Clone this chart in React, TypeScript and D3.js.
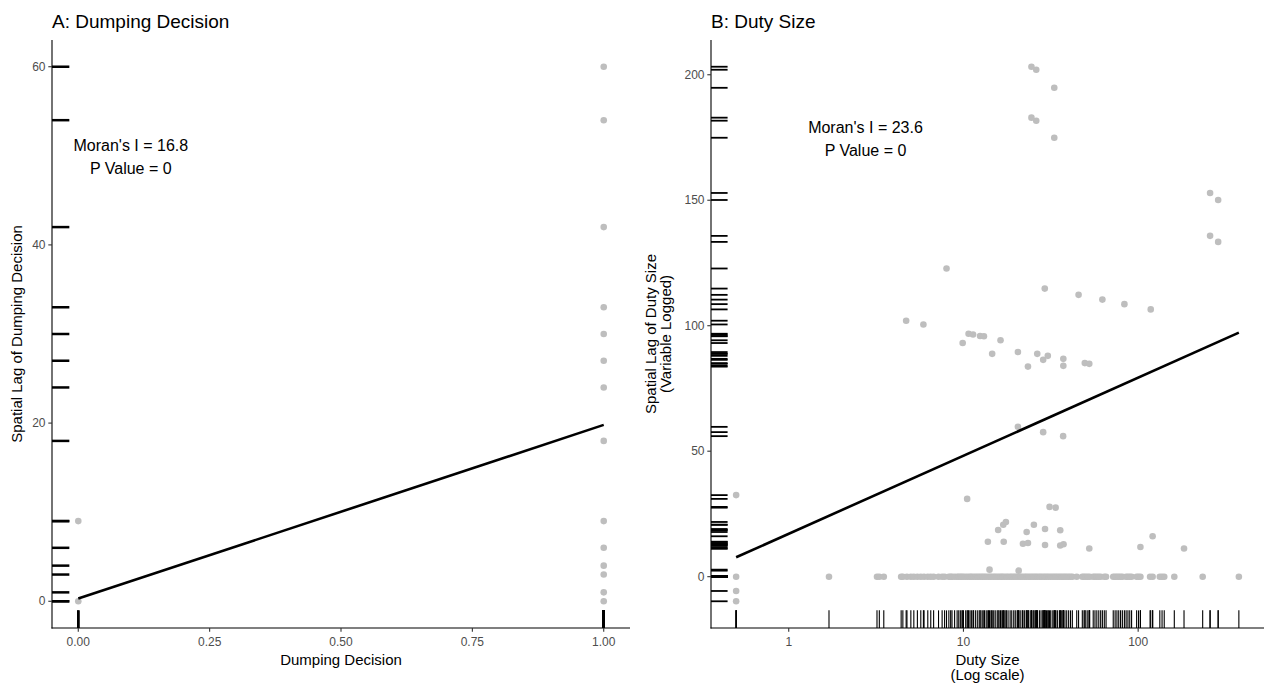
import React from "react";
import * as d3 from "d3";

// ---------- Panel A data ----------
const dumpingDecision = [0, 0, 1, 1, 1, 1, 1, 1, 1, 1, 1, 1, 1, 1, 1, 1];
const dumpingLag = [0, 9, 60, 54, 42, 33, 30, 27, 24, 18, 9, 6, 4, 3, 1, 0];
const xTicksA = [0, 0.25, 0.5, 0.75, 1];
const yTicksA = [0, 20, 40, 60];
const fitA = { intercept: 0.3, slope: 19.5 };
const moranA = ["Moran's I = 16.8", "P Value = 0"];
const annoA = { x: 0.1, y: 50 };

// ---------- Panel B data ----------
// observations with non-zero spatial lag
const dutySizeOther = [
  24.5, 26.1, 33.1, 24.5, 26.1, 33.1,
  258, 287, 258, 287,
  8.0,
  29.2, 45.6, 62.4, 83.4, 118,
  4.7, 5.9,
  9.9, 10.7, 11.35, 12.45, 13.1, 16.3, 14.6, 20.5, 23.4, 26.45, 28.6, 30.4, 37.3, 37.3, 49.5, 52.5,
  20.5, 28.6, 37.2,
  0.5, 10.5, 13.8, 15.8, 16.9, 17.5, 17.0, 21.9, 23.4, 23.0, 25.3, 29.3, 29.3, 31.1, 33.7, 35.8, 35.8, 37.4,
  52.5, 103, 121, 183, 14.1, 20.7,
  0.5, 0.5,
];
const dutyLagOther = [
  203.2, 202, 194.8, 182.9, 181.7, 174.9,
  152.9, 150.1, 135.8, 133.4,
  122.8,
  114.8, 112.3, 110.4, 108.6, 106.5,
  102, 100.5,
  93.1, 96.8, 96.5, 95.9, 95.8, 94.2, 88.8, 89.5, 83.7, 88.8, 86.4, 88.0, 86.8, 84.0, 85.1, 84.8,
  59.7, 57.6, 56.0,
  32.5, 31.0, 13.9, 18.6, 20.7, 21.8, 13.9, 13.1, 13.4, 17.8, 20.7, 19.0, 12.6, 27.8, 27.5, 18.5, 12.4, 12.9,
  11.2, 11.8, 16.1, 11.2, 2.8, 2.4,
  -5.7, -9.8,
];
// observations with a spatial lag of zero
const dutySizeZero = [
  0.5, 1.7, 3.2, 3.3, 3.5,
  4.4, 4.5, 4.75, 5.0, 5.2, 5.45, 5.7, 5.95, 6.25, 6.5, 6.75, 7.2, 7.55, 7.8, 8.25, 8.45, 8.6, 8.9,
  9.2, 9.4, 9.6, 9.8, 10.0, 10.3, 10.6, 10.9, 11.1, 11.4, 11.7, 12.0, 12.3, 12.6, 12.9, 13.2, 13.5,
  13.9, 14.2, 14.5, 14.9, 15.2, 15.6, 16.0, 16.4, 16.7, 17.1, 17.6, 18.0, 18.5, 18.9, 19.4, 19.8,
  20.3, 20.8, 21.3, 21.8, 22.4, 22.9, 23.5, 24.1, 24.7, 25.3, 25.9, 26.5, 27.2, 27.8, 28.5, 29.2,
  29.9, 30.6, 31.4, 32.2, 33.0, 33.8, 34.6, 35.5, 36.3, 37.2, 38.1, 39.0, 40.0, 41.0, 42.0,
  44.5, 47.9, 49.0, 50.2, 51.5, 52.8, 55.3, 56.6, 58.0, 59.5, 61.0, 64.0, 65.5,
  72.0, 73.8, 75.6, 77.4, 79.3, 81.2, 85.3, 87.4, 89.5, 91.7,
  98.0, 100.5, 103.0,
  117.0, 121.0, 133.0, 137.0, 141.0, 161.0, 234.0, 377.0,
];
const xTicksB = [1, 10, 100];
const yTicksB = [0, 50, 100, 150, 200];
const fitB = { intercept: 17.1, slope: 31.1 }; // on log10(duty size)
const moranB = ["Moran's I = 23.6", "P Value = 0"];
const annoB = { x: 2.75, y: 175 };

const FONT = '"Liberation Sans", Arial, Helvetica, sans-serif';
const PT_COLOR = "#bebebe";
const TICK_TEXT = "#4d4d4d";

function expand([lo, hi]: [number, number], m = 0.05): [number, number] {
  const r = hi - lo;
  return [lo - m * r, hi + m * r];
}

export default function App() {
  const W = 1266, H = 683;

  // ----- Panel A geometry -----
  const A = { left: 52, right: 630, top: 40, bottom: 628 };
  const xA = d3.scaleLinear().domain(expand(d3.extent(dumpingDecision) as [number, number])).range([A.left, A.right]);
  const yA = d3.scaleLinear().domain(expand(d3.extent(dumpingLag) as [number, number])).range([A.bottom, A.top]);
  const rugLenAx = 0.03 * (A.right - A.left);
  const rugLenAy = 0.03 * (A.bottom - A.top);
  const xExtA = d3.extent(dumpingDecision) as [number, number];
  const lineA = d3.line<number>().x((d) => xA(d)).y((d) => yA(fitA.intercept + fitA.slope * d));

  // ----- Panel B geometry -----
  const B = { left: 711, right: 1264, top: 40, bottom: 628 };
  const allX = [...dutySizeOther, ...dutySizeZero];
  const allY = [...dutyLagOther, ...dutySizeZero.map(() => 0)];
  const logExt = expand(d3.extent(allX.map((v) => Math.log10(v))) as [number, number]);
  const xB = d3.scaleLog().domain([10 ** logExt[0], 10 ** logExt[1]]).range([B.left, B.right]);
  const yB = d3.scaleLinear().domain(expand(d3.extent(allY) as [number, number])).range([B.bottom, B.top]);
  const rugLenBx = 0.03 * (B.right - B.left);
  const rugLenBy = 0.03 * (B.bottom - B.top);
  const xExtB = d3.extent(allX) as [number, number];
  const lineB = d3.line<number>().x((d) => xB(d)).y((d) => yB(fitB.intercept + fitB.slope * Math.log10(d)));

  const fmtA = d3.format(".2f");

  return (
    <svg width={W} height={H} style={{ position: "absolute", left: 0, top: 0, background: "#fff" }} fontFamily={FONT}>
      <rect x={0} y={0} width={W} height={H} fill="#fff" />

      {/* ================= Panel A ================= */}
      <text x={52} y={28} fontSize={19} fill="#000">A: Dumping Decision</text>

      {/* rugs */}
      <g stroke="#000" strokeWidth={2.5}>
        {dumpingLag.map((v, i) => (
          <line key={"ary" + i} x1={A.left} x2={A.left + rugLenAx} y1={yA(v)} y2={yA(v)} />
        ))}
        {dumpingDecision.map((v, i) => (
          <line key={"arx" + i} x1={xA(v)} x2={xA(v)} y1={A.bottom} y2={A.bottom - rugLenAy} />
        ))}
      </g>

      {/* points */}
      <g fill={PT_COLOR}>
        {dumpingDecision.map((v, i) => (
          <circle key={"ap" + i} cx={xA(v)} cy={yA(dumpingLag[i])} r={3.3} />
        ))}
      </g>

      {/* fit line */}
      <path d={lineA(xExtA) || ""} fill="none" stroke="#000" strokeWidth={2.6} />

      {/* annotation */}
      <g fontSize={16} fill="#000" textAnchor="middle">
        <text x={xA(annoA.x)} y={yA(annoA.y) - 5}>{moranA[0]}</text>
        <text x={xA(annoA.x)} y={yA(annoA.y) + 18.5}>{moranA[1]}</text>
      </g>

      {/* axes */}
      <line x1={A.left} x2={A.left} y1={A.top} y2={A.bottom + 0.5} stroke="#000" strokeWidth={1.1} />
      <line x1={A.left - 0.5} x2={A.right} y1={A.bottom} y2={A.bottom} stroke="#000" strokeWidth={1.1} />
      {yTicksA.map((t) => (
        <g key={"ayt" + t}>
          <line x1={A.left - 3.7} x2={A.left} y1={yA(t)} y2={yA(t)} stroke="#333" strokeWidth={1.1} />
          <text x={A.left - 6.5} y={yA(t)} dy="0.35em" textAnchor="end" fontSize={12} fill={TICK_TEXT}>{t}</text>
        </g>
      ))}
      {xTicksA.map((t) => (
        <g key={"axt" + t}>
          <line x1={xA(t)} x2={xA(t)} y1={A.bottom} y2={A.bottom + 3.7} stroke="#333" strokeWidth={1.1} />
          <text x={xA(t)} y={645.5} textAnchor="middle" fontSize={12} fill={TICK_TEXT}>{fmtA(t)}</text>
        </g>
      ))}
      <text x={(A.left + A.right) / 2} y={665} textAnchor="middle" fontSize={15} fill="#000">Dumping Decision</text>
      <text transform={`translate(21.5, ${(A.top + A.bottom) / 2}) rotate(-90)`} textAnchor="middle" fontSize={15} fill="#000">
        Spatial Lag of Dumping Decision
      </text>

      {/* ================= Panel B ================= */}
      <text x={711} y={28} fontSize={19} fill="#000">B: Duty Size</text>

      <g stroke="#000" strokeWidth={1.8}>
        {allY.map((v, i) => (
          <line key={"bry" + i} x1={B.left} x2={B.left + rugLenBx} y1={yB(v)} y2={yB(v)} />
        ))}
      </g>
      <g stroke="#000" strokeWidth={1.1}>
        {allX.map((v, i) => (
          <line key={"brx" + i} x1={xB(v)} x2={xB(v)} y1={B.bottom} y2={B.bottom - rugLenBy} />
        ))}
      </g>

      <g fill={PT_COLOR}>
        {allX.map((v, i) => (
          <circle key={"bp" + i} cx={xB(v)} cy={yB(allY[i])} r={3.3} />
        ))}
      </g>

      <path d={lineB(xExtB) || ""} fill="none" stroke="#000" strokeWidth={2.6} />

      <g fontSize={16} fill="#000" textAnchor="middle">
        <text x={xB(annoB.x)} y={yB(annoB.y) - 4.5}>{moranB[0]}</text>
        <text x={xB(annoB.x)} y={yB(annoB.y) + 18.5}>{moranB[1]}</text>
      </g>

      <line x1={B.left} x2={B.left} y1={B.top} y2={B.bottom + 0.5} stroke="#000" strokeWidth={1.1} />
      <line x1={B.left - 0.5} x2={B.right} y1={B.bottom} y2={B.bottom} stroke="#000" strokeWidth={1.1} />
      {yTicksB.map((t) => (
        <g key={"byt" + t}>
          <line x1={B.left - 3.7} x2={B.left} y1={yB(t)} y2={yB(t)} stroke="#333" strokeWidth={1.1} />
          <text x={B.left - 6.5} y={yB(t)} dy="0.35em" textAnchor="end" fontSize={12} fill={TICK_TEXT}>{t}</text>
        </g>
      ))}
      {xTicksB.map((t) => (
        <g key={"bxt" + t}>
          <line x1={xB(t)} x2={xB(t)} y1={B.bottom} y2={B.bottom + 3.7} stroke="#333" strokeWidth={1.1} />
          <text x={xB(t)} y={645.5} textAnchor="middle" fontSize={12} fill={TICK_TEXT}>{t}</text>
        </g>
      ))}
      <g fontSize={15} fill="#000" textAnchor="middle">
        <text x={(B.left + B.right) / 2} y={665}>Duty Size</text>
        <text x={(B.left + B.right) / 2} y={679.5}>(Log scale)</text>
      </g>
      <g fontSize={15} fill="#000" textAnchor="middle">
        <text transform={`translate(656, ${(B.top + B.bottom) / 2}) rotate(-90)`}>Spatial Lag of Duty Size</text>
        <text transform={`translate(670.5, ${(B.top + B.bottom) / 2}) rotate(-90)`}>(Variable Logged)</text>
      </g>
    </svg>
  );
}
